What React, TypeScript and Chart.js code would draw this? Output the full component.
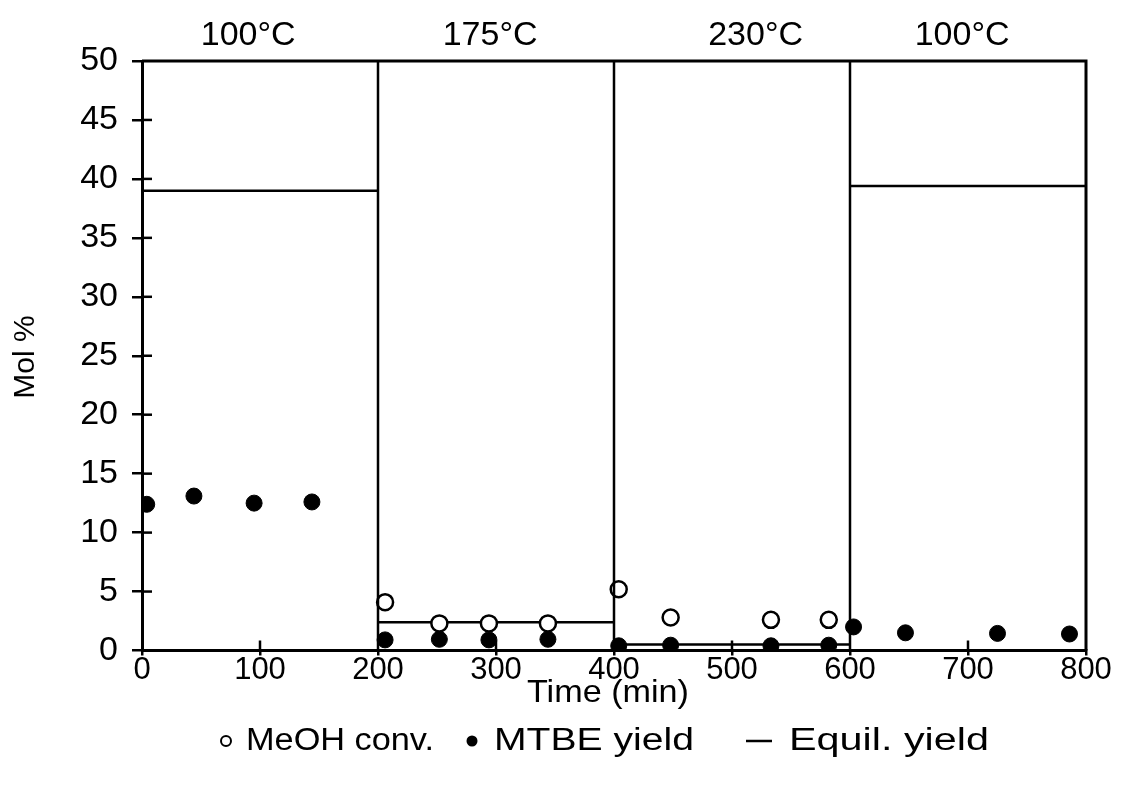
import { useEffect, useRef } from "react";
import { Chart, registerables } from "chart.js";

Chart.register(...registerables);

const FONT = "'Liberation Sans', Arial, sans-serif";

const TEMPERATURES = ["100°C", "175°C", "230°C", "100°C"];
const TEMP_LABEL_X = [90, 295, 520, 695];
const SEGMENT_BOUNDS = [200, 400, 600];

const MEOH_TIME = [206, 252, 294, 344, 404, 448, 533, 582];
const MEOH_CONV = [4.1, 2.3, 2.3, 2.3, 5.2, 2.8, 2.6, 2.6];

const MTBE_TIME = [4, 44, 95, 144, 206, 252, 294, 344, 404, 448, 533, 582, 603, 647, 725, 786];
const MTBE_YIELD = [12.4, 13.1, 12.5, 12.6, 0.9, 0.95, 0.9, 0.95, 0.4, 0.45, 0.4, 0.45, 2.0, 1.5, 1.45, 1.4];

const EQUIL_START = [0, 200, 400, 600];
const EQUIL_END = [200, 400, 600, 800];
const EQUIL_YIELD = [39.0, 2.4, 0.5, 39.4];

const LEGEND_LABELS = ["MeOH conv.", "MTBE yield", "Equil. yield"];

function fillStretched(ctx: CanvasRenderingContext2D, text: string, x: number, y: number, width: number) {
  const w = ctx.measureText(text).width;
  ctx.save();
  ctx.translate(x, y);
  ctx.scale(width / w, 1);
  ctx.fillText(text, 0, 0);
  ctx.restore();
}

const framePlugin = {
  id: "frame",
  afterDatasetsDraw(chart: any) {
    const { ctx, chartArea, scales } = chart;
    const x = scales.x;
    const y = scales.y;
    ctx.save();
    ctx.strokeStyle = "#000";
    ctx.lineCap = "butt";
    ctx.lineWidth = 3;
    ctx.beginPath();
    ctx.moveTo(chartArea.left, y.getPixelForValue(50));
    ctx.lineTo(x.getPixelForValue(800), y.getPixelForValue(50));
    ctx.lineTo(x.getPixelForValue(800), y.getPixelForValue(0));
    ctx.stroke();
    ctx.lineWidth = 2.5;
    SEGMENT_BOUNDS.forEach((b) => {
      const px = x.getPixelForValue(b);
      ctx.beginPath();
      ctx.moveTo(px, y.getPixelForValue(50));
      ctx.lineTo(px, y.getPixelForValue(0));
      ctx.stroke();
    });
    y.ticks.forEach((t: any) => {
      if (t.value === 0 || t.value === 50) return;
      const py = y.getPixelForValue(t.value);
      ctx.beginPath();
      ctx.moveTo(chartArea.left, py);
      ctx.lineTo(chartArea.left + 10, py);
      ctx.stroke();
    });
    x.ticks.forEach((t: any) => {
      if (t.value % 200 === 0) return;
      const px = x.getPixelForValue(t.value);
      ctx.beginPath();
      ctx.moveTo(px, chartArea.bottom);
      ctx.lineTo(px, chartArea.bottom - 10);
      ctx.stroke();
    });
    ctx.fillStyle = "#000";
    ctx.font = `34px ${FONT}`;
    ctx.textAlign = "center";
    ctx.textBaseline = "middle";
    TEMPERATURES.forEach((label, i) => {
      ctx.fillText(label, x.getPixelForValue(TEMP_LABEL_X[i]), 36);
    });
    ctx.textAlign = "left";
    ctx.font = `32px ${FONT}`;
    fillStretched(ctx, "Time (min)", 527, 693, 162);
    ctx.save();
    ctx.translate(26, 357);
    ctx.rotate(-Math.PI / 2);
    ctx.textAlign = "center";
    ctx.font = `30px ${FONT}`;
    ctx.fillText("Mol %", 0, 0);
    ctx.restore();
    const ly = 741;
    ctx.font = `31px ${FONT}`;
    ctx.lineWidth = 2;
    ctx.beginPath();
    ctx.arc(226, ly, 5, 0, Math.PI * 2);
    ctx.stroke();
    fillStretched(ctx, LEGEND_LABELS[0], 246, ly, 188);
    ctx.beginPath();
    ctx.arc(472, ly, 5.5, 0, Math.PI * 2);
    ctx.fill();
    fillStretched(ctx, LEGEND_LABELS[1], 494, ly, 200);
    ctx.lineWidth = 2.5;
    ctx.beginPath();
    ctx.moveTo(746, ly);
    ctx.lineTo(772, ly);
    ctx.stroke();
    fillStretched(ctx, LEGEND_LABELS[2], 789, ly, 200);
    ctx.restore();
  },
};

export default function App() {
  const ref = useRef<HTMLCanvasElement | null>(null);
  useEffect(() => {
    if (!ref.current) return;
    const equilData: any[] = [];
    EQUIL_YIELD.forEach((v, i) => {
      equilData.push({ x: EQUIL_START[i], y: v });
      equilData.push({ x: EQUIL_END[i], y: v });
      equilData.push({ x: EQUIL_END[i], y: null });
    });
    const chart = new Chart(ref.current, {
      type: "scatter",
      data: {
        datasets: [
          {
            label: LEGEND_LABELS[2],
            type: "line",
            data: equilData,
            borderColor: "#000",
            borderWidth: 2.5,
            pointRadius: 0,
            spanGaps: false,
            order: 3,
          } as any,
          {
            label: LEGEND_LABELS[1],
            data: MTBE_TIME.map((t, i) => ({ x: t, y: MTBE_YIELD[i] })),
            pointRadius: 8,
            pointBackgroundColor: "#000",
            pointBorderColor: "#000",
            pointBorderWidth: 1,
            order: 2,
          },
          {
            label: LEGEND_LABELS[0],
            data: MEOH_TIME.map((t, i) => ({ x: t, y: MEOH_CONV[i] })),
            pointRadius: 8,
            pointBackgroundColor: "#fff",
            pointBorderColor: "#000",
            pointBorderWidth: 2.5,
            order: 1,
          },
        ],
      },
      options: {
        animation: false,
        responsive: true,
        maintainAspectRatio: false,
        layout: { padding: { top: 61, right: 40, left: 0, bottom: 0 } },
        plugins: {
          legend: { display: false },
          tooltip: { enabled: false },
        },
        scales: {
          x: {
            type: "linear",
            min: 0,
            max: 800,
            ticks: {
              stepSize: 100,
              color: "#000",
              font: { family: FONT, size: 31, lineHeight: 1 },
              padding: -1,
              maxRotation: 0,
            },
            grid: { drawOnChartArea: false, drawTicks: true, tickLength: 5, color: "#000", lineWidth: 2.5 },
            border: { display: true, color: "#000", width: 3 },
            afterFit: (s: any) => {
              s.height = 139.5;
            },
          },
          y: {
            min: 0,
            max: 50,
            ticks: {
              stepSize: 5,
              color: "#000",
              font: { family: FONT, size: 34 },
              padding: 14,
            },
            grid: { drawOnChartArea: false, drawTicks: true, tickLength: 10, color: "#000", lineWidth: 2.5 },
            border: { display: true, color: "#000", width: 3 },
            afterFit: (s: any) => {
              s.width = 142;
            },
          },
        },
      },
      plugins: [framePlugin],
    });
    return () => chart.destroy();
  }, []);
  return (
    <div style={{ position: "absolute", left: 0, top: 0, width: 1126, height: 790, background: "#fff" }}>
      <canvas ref={ref} />
    </div>
  );
}
